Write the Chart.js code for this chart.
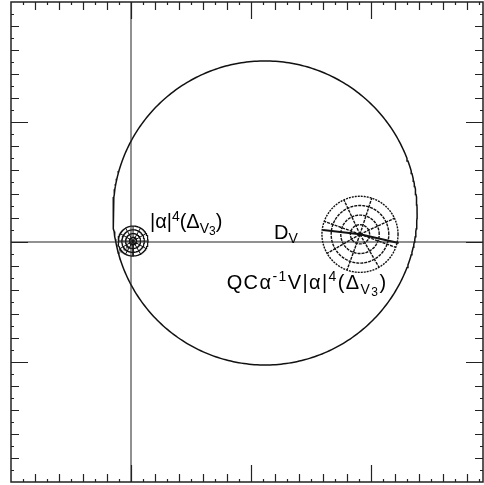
<!DOCTYPE html>
<html>
<head>
<meta charset="utf-8">
<script src="https://cdn.jsdelivr.net/npm/chart.js@4.4.1/dist/chart.umd.min.js"></script>
<style>
  html, body { margin: 0; padding: 0; background: #fff; }
  #c { display: block; }
</style>
</head>
<body>
<canvas id="c" width="484" height="485"></canvas>
<script>
// axis ranges (data units) and tick steps
const xRange = [-1, 2.933];
const yRange = [-2, 2];
const minorStep = 0.1;

// big disc D_V : [cx, cy, r]
const bigCircle = [1.117, 0.242, 1.267];

// small target near the origin
const smallCenter = [0.017, 0.008];
const smallRadii = [0.125, 0.094, 0.0625, 0.031];
const smallSpokes = [0, 30, 60, 90, 120, 150, 180, 210, 240, 270, 300, 330];

// dotted target inside D_V
const dotCenter = [1.908, 0.064];
const dotRadii = [0.317, 0.24, 0.16, 0.08];
const dotSpokes = [25, 72, 115, 160, 210, 250, 300, 340];

// thick path crossing the dotted target
const pathX = [1.6, 1.908, 2.23];
const pathY = [0.1, 0.064, -0.008];

// the two coordinate axes
const axisH = [[-1, 0], [2.933, 0]];
const axisV = [[0, -2], [0, 2]];

// labels: [x, y, letter spacing, segments [text, dy, size]]
const labels = [
  [0.158, 0.119, 0, [['|α|', 0, 20], ['4', -7, 14], ['(Δ', 0, 20], ['V', 5, 14], ['3', 7, 12], [')', 0, 20]]],
  [1.192, 0.025, 0, [['D', 0, 20], ['V', 4, 14]]],
  [0.797, -0.392, 1.4, [['QCα', 0, 20], ['-1', -8, 14], ['V|α|', 0, 20], ['4', -8, 14], ['(Δ', 0, 20], ['V', 5, 14], ['3', 7, 12], [')', 0, 20]]]
];

function circlePts(c, r) {
  const pts = [];
  for (let a = 0; a <= 360; a += 1) {
    const t = a * Math.PI / 180;
    pts.push({ x: c[0] + r * Math.cos(t), y: c[1] + r * Math.sin(t) });
  }
  return pts;
}

function spokePts(c, r, angles) {
  const pts = [];
  angles.forEach(a => {
    const t = a * Math.PI / 180;
    pts.push({ x: c[0], y: c[1] });
    pts.push({ x: c[0] + r * Math.cos(t), y: c[1] + r * Math.sin(t) });
    pts.push({ x: NaN, y: NaN });
  });
  return pts;
}

function lineSet(data, opts) {
  return Object.assign({
    type: 'scatter', data: data, showLine: true, spanGaps: false,
    pointRadius: 0, borderColor: '#111', borderWidth: 1, fill: false
  }, opts || {});
}

const datasets = [];
datasets.push(lineSet(axisH.map(p => ({ x: p[0], y: p[1] })), { borderColor: '#222' }));
datasets.push(lineSet(axisV.map(p => ({ x: p[0], y: p[1] })), { borderColor: '#222' }));
datasets.push(lineSet(circlePts(bigCircle.slice(0, 2), bigCircle[2]), { borderWidth: 1.5 }));
smallRadii.forEach(r => datasets.push(lineSet(circlePts(smallCenter, r), { borderWidth: 1.2 })));
datasets.push(lineSet(spokePts(smallCenter, smallRadii[0], smallSpokes), { borderWidth: 1 }));
dotRadii.forEach((r, i) => datasets.push(lineSet(circlePts(dotCenter, r), { borderWidth: 1.4, borderDash: i === 0 ? [2, 1] : [3, 1] })));
datasets.push(lineSet(spokePts(dotCenter, dotRadii[0], dotSpokes), { borderWidth: 1.4, borderDash: [3, 1] }));
datasets.push(lineSet(pathX.map((x, i) => ({ x: x, y: pathY[i] })), { borderWidth: 2 }));

// frame with inward ticks and rich-text labels
const framePlugin = {
  id: 'frame',
  afterDatasetsDraw(chart) {
    const ctx = chart.ctx;
    const a = chart.chartArea;
    const xs = chart.scales.x, ys = chart.scales.y;
    ctx.save();
    ctx.strokeStyle = '#222';
    ctx.lineWidth = 1.5;
    ctx.strokeRect(a.left, a.top, a.right - a.left, a.bottom - a.top);
    ctx.lineWidth = 1.2;
    const len = v => {
      const n = Math.round(v / minorStep);
      if (n % 10 === 0) return 17;
      if (n % 2 === 0) return 8;
      return 3;
    };
    ctx.beginPath();
    for (let n = Math.ceil(xRange[0] / minorStep) + 1; n * minorStep <= xRange[1] - 0.01; n++) {
      const v = n * minorStep;
      const px = Math.round(xs.getPixelForValue(v)) + 0.5;
      const l = len(v);
      ctx.moveTo(px, a.bottom); ctx.lineTo(px, a.bottom - l);
      ctx.moveTo(px, a.top); ctx.lineTo(px, a.top + l);
    }
    for (let n = Math.ceil(yRange[0] / minorStep) + 1; n * minorStep < yRange[1] - 0.01; n++) {
      const v = n * minorStep;
      const py = Math.round(ys.getPixelForValue(v)) + 0.5;
      const l = len(v);
      ctx.moveTo(a.left, py); ctx.lineTo(a.left + l, py);
      ctx.moveTo(a.right, py); ctx.lineTo(a.right - l, py);
    }
    ctx.stroke();

    ctx.fillStyle = '#000';
    ctx.textBaseline = 'alphabetic';
    labels.forEach(lb => {
      let px = xs.getPixelForValue(lb[0]);
      const py = ys.getPixelForValue(lb[1]);
      const gap = lb[2];
      lb[3].forEach(seg => {
        ctx.font = seg[2] + 'px "Liberation Sans", Arial, sans-serif';
        for (const ch of seg[0]) {
          ctx.fillText(ch, px, py + seg[1]);
          px += ctx.measureText(ch).width + gap;
        }
      });
    });
    ctx.restore();
  }
};

new Chart(document.getElementById('c'), {
  type: 'scatter',
  data: { datasets: datasets },
  options: {
    responsive: false,
    animation: false,
    layout: { padding: { left: 11, top: 2, right: 1, bottom: 3 } },
    plugins: { legend: { display: false }, tooltip: { enabled: false } },
    scales: {
      x: { type: 'linear', display: false, min: xRange[0], max: xRange[1] },
      y: { type: 'linear', display: false, min: yRange[0], max: yRange[1] }
    }
  },
  plugins: [framePlugin]
});
</script>
</body>
</html>
